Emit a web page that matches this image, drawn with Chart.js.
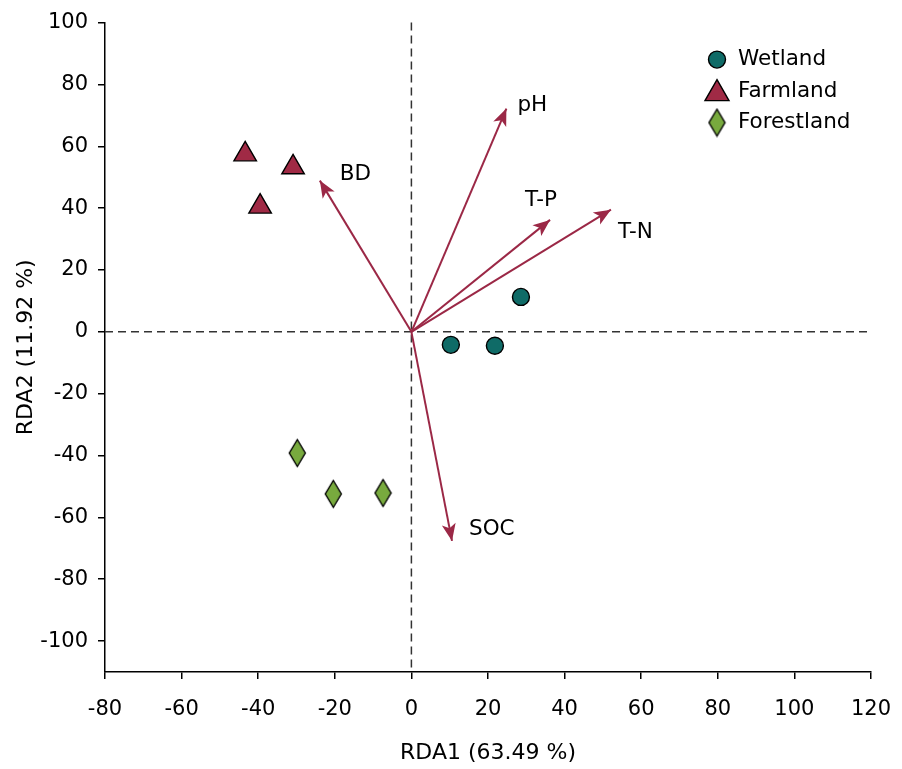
<!DOCTYPE html>
<html>
<head>
<meta charset="utf-8">
<script src="https://cdn.jsdelivr.net/npm/chart.js@4.4.0/dist/chart.umd.min.js"></script>
<style>
  body { margin: 0; background: #fff; }
  #wrap { width: 902px; height: 769px; }
</style>
</head>
<body>
<div id="wrap"><canvas id="rdaChart"></canvas></div>
<script>
// sample scores
const wetlandX = [10.3, 21.8, 28.6];
const wetlandY = [-4.2, -4.5, 11.3];
const farmlandX = [-43.4, -30.9, -39.5];
const farmlandY = [57.4, 53.2, 40.5];
const forestX = [-29.8, -20.4, -7.4];
const forestY = [-39.2, -52.4, -52.1];

// environmental variable arrows (tips)
const varNames = ['pH', 'BD', 'T-P', 'T-N', 'SOC'];
const varX = [24.8, -23.9, 36.2, 52.1, 10.6];
const varY = [72.2, 48.9, 36.2, 39.5, -67.6];

const xTicks = [-80, -60, -40, -20, 0, 20, 40, 60, 80, 100, 120];
const yTicks = [-100, -80, -60, -40, -20, 0, 20, 40, 60, 80, 100];

const FONT = 'DejaVu Sans';
const tealCol = '#0f6b67';
const redCol = '#a02a45';
const greenCol = '#78aa3e';
const arrowCol = '#9b2846';

function pts(xs, ys) {
    return xs.map((x, i) => ({ x: x, y: ys[i] }));
}

// tall diamond marker
function makeDiamond() {
    const c = document.createElement('canvas');
    c.width = 19;
    c.height = 30;
    const g = c.getContext('2d');
    g.beginPath();
    g.moveTo(9.5, 1.5);
    g.lineTo(17.5, 15);
    g.lineTo(9.5, 28.5);
    g.lineTo(1.5, 15);
    g.closePath();
    g.fillStyle = greenCol;
    g.fill();
    g.lineWidth = 1.4;
    g.strokeStyle = '#000';
    g.stroke();
    return c;
}
const diamond = makeDiamond();

const arrowSets = varNames.map((name, i) => ({
    type: 'line',
    label: name,
    data: [{ x: 0, y: 0 }, { x: varX[i], y: varY[i] }],
    borderColor: arrowCol,
    borderWidth: 2,
    pointRadius: 0,
    fill: false
}));

const rdaExtras = {
    id: 'rdaExtras',
    beforeDatasetsDraw(chart) {
        const { ctx, chartArea: a, scales: { x, y } } = chart;
        const x0 = x.getPixelForValue(0);
        const y0 = y.getPixelForValue(0);
        ctx.save();
        ctx.strokeStyle = '#333';
        ctx.lineWidth = 1.5;
        ctx.setLineDash([8, 5]);
        ctx.beginPath();
        ctx.moveTo(x0, a.top);
        ctx.lineTo(x0, a.bottom);
        ctx.moveTo(a.left, y0);
        ctx.lineTo(a.right, y0);
        ctx.stroke();
        ctx.restore();
    },
    afterDatasetsDraw(chart, args, opts) {
        const { ctx, chartArea: a, scales: { x, y } } = chart;
        const x0 = x.getPixelForValue(0);
        const y0 = y.getPixelForValue(0);
        ctx.save();
        // arrow heads and labels
        ctx.font = '21.5px "' + FONT + '"';
        ctx.textBaseline = 'middle';
        ctx.textAlign = 'left';
        varNames.forEach((name, i) => {
            const tx = x.getPixelForValue(varX[i]);
            const ty = y.getPixelForValue(varY[i]);
            const ang = Math.atan2(ty - y0, tx - x0);
            const len = 17, hw = 7;
            const c = Math.cos(ang), s = Math.sin(ang);
            ctx.fillStyle = arrowCol;
            ctx.beginPath();
            ctx.moveTo(tx, ty);
            ctx.lineTo(tx - len * c + hw * s, ty - len * s - hw * c);
            ctx.lineTo(tx - len * 0.75 * c, ty - len * 0.75 * s);
            ctx.lineTo(tx - len * c - hw * s, ty - len * s + hw * c);
            ctx.closePath();
            ctx.fill();
            const off = opts.labelOffsets[i];
            ctx.fillStyle = '#000';
            ctx.fillText(name, tx + off[0], ty + off[1]);
        });
        // legend
        const lx = a.right - 154;
        const rows = [a.top + 37, a.top + 69, a.top + 100];
        ctx.lineWidth = 1.4;
        ctx.strokeStyle = '#000';
        ctx.fillStyle = tealCol;
        ctx.beginPath();
        ctx.arc(lx, rows[0], 8.5, 0, Math.PI * 2);
        ctx.fill();
        ctx.stroke();
        ctx.fillStyle = redCol;
        ctx.beginPath();
        ctx.moveTo(lx, rows[1] - 12);
        ctx.lineTo(lx + 12, rows[1] + 9);
        ctx.lineTo(lx - 12, rows[1] + 9);
        ctx.closePath();
        ctx.fill();
        ctx.stroke();
        ctx.drawImage(diamond, lx - 9.5, rows[2] - 15);
        ctx.fillStyle = '#000';
        ['Wetland', 'Farmland', 'Forestland'].forEach((t, i) => {
            ctx.fillText(t, lx + 21, rows[i]);
        });
        ctx.restore();
    }
};

const tickFont = { family: FONT, size: 21 };
const titleFont = { family: FONT, size: 22 };

new Chart(document.getElementById('rdaChart'), {
    type: 'scatter',
    data: {
        datasets: [
            {
                label: 'Wetland',
                data: pts(wetlandX, wetlandY),
                pointStyle: 'circle',
                pointRadius: 8.5,
                backgroundColor: tealCol,
                borderColor: '#000',
                borderWidth: 1.4
            },
            {
                label: 'Farmland',
                data: pts(farmlandX, farmlandY),
                pointStyle: 'triangle',
                pointRadius: 13,
                backgroundColor: redCol,
                borderColor: '#000',
                borderWidth: 1.4
            },
            {
                label: 'Forestland',
                data: pts(forestX, forestY),
                pointStyle: diamond,
                pointRadius: 15
            },
            ...arrowSets
        ]
    },
    options: {
        responsive: true,
        maintainAspectRatio: false,
        animation: false,
        layout: { padding: { left: 0, top: 21, right: 31, bottom: 0 } },
        plugins: {
            legend: { display: false },
            tooltip: { enabled: false },
            rdaExtras: {
                labelOffsets: [[11, -3], [20, -6], [-25, -19], [7, 23], [17, -11]]
            }
        },
        scales: {
            x: {
                type: 'linear',
                position: 'bottom',
                min: -80,
                max: 120,
                afterBuildTicks: s => { s.ticks = xTicks.map(v => ({ value: v })); },
                afterFit: s => { s.height = 97; s.paddingLeft = 0; s.paddingRight = 0; },
                grid: { drawOnChartArea: false, color: '#000', tickLength: 7, lineWidth: 1.5 },
                border: { color: '#000', width: 1.5 },
                ticks: { color: '#000', font: tickFont, padding: 18, maxRotation: 0 },
                title: { display: true, text: 'RDA1 (63.49 %)', color: '#000', font: titleFont, padding: { top: 0, bottom: 3 } }
            },
            y: {
                type: 'linear',
                min: -110,
                max: 100,
                afterBuildTicks: s => { s.ticks = yTicks.map(v => ({ value: v })); },
                afterFit: s => { s.width = 105; },
                grid: { drawOnChartArea: false, color: '#000', tickLength: 7, lineWidth: 1.5 },
                border: { color: '#000', width: 1.5 },
                ticks: { color: '#000', font: tickFont, padding: 10 },
                title: { display: true, text: 'RDA2 (11.92 %)', color: '#000', font: titleFont, padding: { top: 13, bottom: 0 } }
            }
        }
    },
    plugins: [rdaExtras]
});
</script>
</body>
</html>
